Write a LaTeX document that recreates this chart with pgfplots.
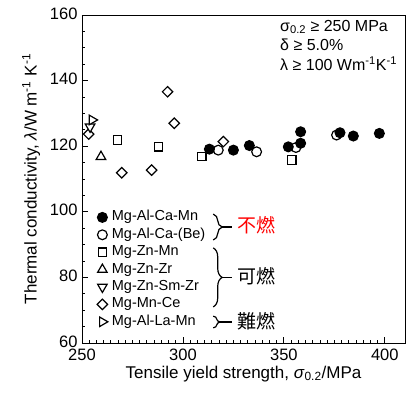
\documentclass[border=0pt]{standalone}
\usepackage{fontspec}
\setmainfont{Liberation Sans}
\newfontfamily\cjk{Noto Sans CJK JP}
\usepackage{pgfplots}
\pgfplotsset{compat=1.18}
\usetikzlibrary{decorations.pathreplacing}
\begin{document}
\begin{tikzpicture}
\begin{axis}[name=ax, scale only axis, width=323pt, height=328pt,
  xmin=250, xmax=410, ymin=60, ymax=160,
  xtick={250,300,350,400}, ytick={60,80,...,160},
  minor x tick num=13, minor y tick num=3,
  tick align=inside, xtick pos=left, ytick pos=left,
  major tick length=6pt, minor tick length=3.5pt,
  tick style={black, line width=0.8pt},
  axis line style={line width=0.9pt},
  /pgf/number format/assume math mode=true,
  ticklabel style={font=\fontsize{16.5}{18}\selectfont},
  xticklabel style={yshift=-2.5pt},
  yticklabel style={yshift=1.5pt, xshift=-1pt},
  label style={font=\fontsize{17}{19}\selectfont},
  xlabel={Tensile yield strength, \textit{σ}\textsubscript{0.2}/MPa},
  xlabel style={yshift=1.5pt},
  ylabel={Thermal conductivity, \textit{λ}/W m\textsuperscript{-1} K\textsuperscript{-1}},
  ylabel style={yshift=3pt},
  legend style={at={(0.037,0.4125)}, anchor=north west, draw=none, fill=none,
    font=\fontsize{14.5}{17}\selectfont, row sep=2.4pt, column sep=3pt,
    nodes={inner sep=1pt, text height=10pt, text depth=3pt}},
  legend cell align=left,
  legend image code/.code={\draw[mark repeat=2,mark phase=2,#1] plot coordinates {(0cm,0cm) (0.2cm,0cm) (0.4cm,0cm)};},
  every axis plot/.append style={only marks, line width=1.2pt},
]
% open circles first (behind filled)
\addplot[forget plot, mark=*, mark size=4.9pt, mark options={draw=black, fill=white}] coordinates {
  (317.5,118.8) (336.5,118.3) (356.0,119.6) (376.1,123.4)};
\addplot[forget plot, mark=*, mark size=4.9pt, mark options={draw=black, fill=black}] coordinates {
  (313.1,119.1) (325.0,118.8) (332.9,120.2) (352.2,119.8) (358.3,120.9)
  (358.3,124.4) (377.8,124.1) (384.4,123.1) (397.3,123.9)};
\addplot[forget plot, mark=square*, mark size=4.2pt, mark options={draw=black, fill=white}] coordinates {
  (267.5,121.9) (287.8,119.8) (309.3,116.8) (353.9,115.8)};
\addplot[forget plot, mark=triangle*, mark size=5.5pt, mark options={draw=black, fill=white}] coordinates {
  (259.4,116.8)};
\addplot[forget plot, mark=square*, mark size=3.7pt, mark options={draw=black, fill=white, rotate=45}] coordinates {
  (253.3,123.7) (269.7,111.9) (284.5,112.7) (292.4,136.6) (295.7,127.0) (320.0,121.4)};
\addplot[forget plot, mark=triangle*, mark size=5.5pt, mark options={draw=black, fill=white, rotate=180}] coordinates {
  (254.0,125.9)};
\addplot[forget plot, mark=triangle*, mark size=5.5pt, mark options={draw=black, fill=white, rotate=-90}] coordinates {
  (255.0,128.0)};
% legend entries
\addlegendimage{only marks, line width=1.2pt, mark=*, mark size=4.9pt, mark options={draw=black, fill=black}}
\addlegendentry{Mg-Al-Ca-Mn}
\addlegendimage{only marks, line width=1.2pt, mark=*, mark size=4.9pt, mark options={draw=black, fill=white}}
\addlegendentry{Mg-Al-Ca-(Be)}
\addlegendimage{only marks, line width=1.2pt, mark=square*, mark size=4.2pt, mark options={draw=black, fill=white}}
\addlegendentry{Mg-Zn-Mn}
\addlegendimage{only marks, line width=1.2pt, mark=triangle*, mark size=5.5pt, mark options={draw=black, fill=white}}
\addlegendentry{Mg-Zn-Zr}
\addlegendimage{only marks, line width=1.2pt, mark=triangle*, mark size=5.5pt, mark options={draw=black, fill=white, rotate=180}}
\addlegendentry{Mg-Zn-Sm-Zr}
\addlegendimage{only marks, line width=1.2pt, mark=square*, mark size=3.7pt, mark options={draw=black, fill=white, rotate=45}}
\addlegendentry{Mg-Mn-Ce}
\addlegendimage{only marks, line width=1.2pt, mark=triangle*, mark size=5.5pt, mark options={draw=black, fill=white, rotate=-90}}
\addlegendentry{Mg-Al-La-Mn}
% braces
\draw[line width=1.2pt, decorate, decoration={brace, amplitude=9pt}] (axis cs:315.0,99.3) -- (axis cs:315.0,91.4);
\draw[line width=1.2pt] (axis cs:319.5,95.35) -- (axis cs:324.2,95.35);
\draw[line width=1.2pt, decorate, decoration={brace, amplitude=9pt}] (axis cs:315.0,89) -- (axis cs:315.0,71);
\draw[line width=1.2pt] (axis cs:319.5,80) -- (axis cs:324.2,80);
\draw[line width=1.2pt, decorate, decoration={brace, amplitude=7pt}] (axis cs:315.0,68.2) -- (axis cs:315.0,64.6);
\draw[line width=1.2pt] (axis cs:318.5,66.4) -- (axis cs:324.2,66.4);
\node[anchor=west, text=red, font=\cjk\fontsize{19}{21}\selectfont, inner sep=0pt] at (axis cs:326.8,95.8) {不燃};
\node[anchor=west, font=\cjk\fontsize{19}{21}\selectfont, inner sep=0pt] at (axis cs:326.8,80.5) {可燃};
\node[anchor=west, font=\cjk\fontsize{19}{21}\selectfont, inner sep=0pt] at (axis cs:326.8,66.6) {難燃};
\node[anchor=north west, align=left, inner sep=0pt, font=\fontsize{16}{19.5}\selectfont] at (rel axis cs:0.613,0.985)
  {σ\textsubscript{0.2} ≥ 250 MPa\\δ ≥ 5.0\%\\λ ≥ 100 Wm\textsuperscript{-1}K\textsuperscript{-1}};
\end{axis}
\path (ax.south west) ++(-82pt,-62pt);
\path (ax.north east) ++(8pt,15pt);
\end{tikzpicture}
\end{document}
